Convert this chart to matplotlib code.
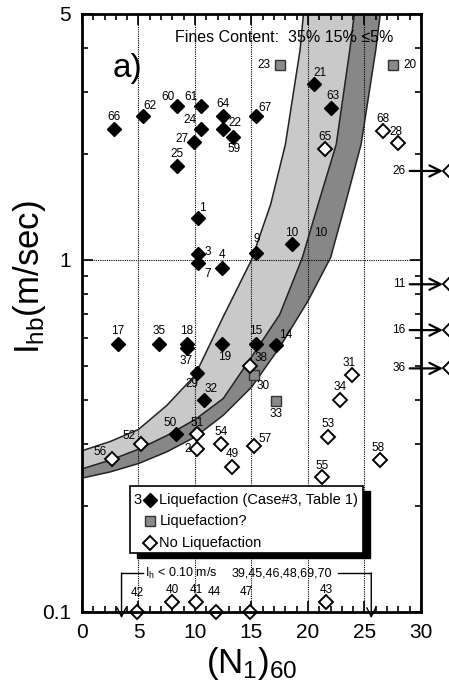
import matplotlib
matplotlib.use("Agg")
import matplotlib.pyplot as plt
from matplotlib.patches import Rectangle
from matplotlib.ticker import FixedLocator, NullFormatter

plt.rcParams['font.family'] = ['Liberation Sans', 'DejaVu Sans']
plt.rcParams['mathtext.fontset'] = 'custom'
plt.rcParams['mathtext.rm'] = 'Liberation Sans'
plt.rcParams['mathtext.it'] = 'Liberation Sans:italic'

# --- boundary curves (fines content 35%, 15%, <=5%)
fc35_x = [0, 2.5, 5, 7.5, 10, 12.5, 15, 16.7, 18.0, 19.3, 19.6]
fc35_y = [0.287, 0.305, 0.33, 0.386, 0.47, 0.69, 1.0, 1.44, 2.13, 3.95, 5.0]
fc15_x = [0, 2.5, 5, 7.5, 10, 12.5, 15, 17.5, 19.5, 20.9, 22.5, 23.7, 24.1]
fc15_y = [0.255, 0.27, 0.29, 0.317, 0.352, 0.404, 0.53, 0.70, 1.015, 1.44, 2.13, 3.95, 5.0]
fc5_x = [0, 2.5, 5, 7.5, 10, 12.5, 15, 17.5, 20, 22.0, 23.3, 24.7, 26.0, 26.4]
fc5_y = [0.24, 0.25, 0.264, 0.285, 0.314, 0.362, 0.435, 0.565, 0.765, 1.015, 1.44, 2.13, 3.95, 5.0]

# --- case histories
liq_ids = ['66', '62', '60', '61', '24', '27', '64', '22', '59', '25', '1', '67', '21', '63',
           '3', '7', '4', '9', '10', '17', '35', '18', '37', '19', '15', '14', '29', '32', '50']
liq_x = [2.8, 5.4, 8.4, 10.5, 10.5, 9.9, 12.5, 12.5, 13.4, 8.4, 10.3, 15.4, 20.5, 22.05,
         10.3, 10.3, 12.4, 15.4, 18.6, 3.2, 6.8, 9.3, 9.3, 12.4, 15.4, 17.2, 10.2, 10.8, 8.3]
liq_y = [2.35, 2.57, 2.73, 2.73, 2.35, 2.17, 2.57, 2.35, 2.24, 1.85, 1.32, 2.56, 3.17, 2.71,
         1.04, 0.98, 0.95, 1.05, 1.11, 0.577, 0.577, 0.577, 0.562, 0.577, 0.577, 0.574, 0.476, 0.40, 0.32]

maybe_ids = ['23', '20', '30', '33']
maybe_x = [17.5, 27.5, 15.2, 17.2]
maybe_y = [3.57, 3.57, 0.47, 0.397]

noliq_ids = ['65', '68', '28', '38', '51', '2', '54', '49', '52', '56', '57', '31', '34', '53',
             '58', '55', '42', '40', '41', '44', '47', '43']
noliq_x = [21.5, 26.6, 28.0, 14.85, 10.2, 10.2, 12.3, 13.3, 5.2, 2.65, 15.2, 23.9, 22.8, 21.8,
           26.4, 21.25, 4.9, 8.0, 10.1, 11.9, 14.9, 21.6]
noliq_y = [2.07, 2.32, 2.15, 0.50, 0.32, 0.29, 0.30, 0.258, 0.30, 0.272, 0.297, 0.471, 0.40, 0.315,
           0.27, 0.242, 0.1, 0.107, 0.107, 0.1, 0.1, 0.107]

# cases with Ihb above the plotted range of (N1)60 (shown with arrows)
off_ids = ['26', '11', '16', '36']
off_y = [1.79, 0.853, 0.632, 0.492]

# label offsets in pixels (dx, dy)
label_pos = {
    '66': (0, 12), '62': (7, 10), '60': (-9, 9), '61': (-10, 9), '24': (-11, 9), '27': (-12, 3),
    '64': (0, 12), '22': (12, 6), '59': (1, -12), '25': (0, 12), '1': (4, 10), '67': (9, 8),
    '21': (6, 11), '63': (2, 12), '3': (9, 2), '7': (9, -11), '4': (0, 13), '9': (1, 14),
    '10': (0, 11), '17': (0, 13), '35': (0, 13), '18': (0, 13), '37': (-1, -13), '19': (3, -13),
    '15': (0, 13), '14': (9, 10), '29': (-5, -11), '32': (7, 11), '50': (-6, 11),
    '23': (-16, 0), '20': (17, 0), '30': (9, -11), '33': (0, -13),
    '65': (0, 12), '68': (0, 12), '28': (-2, 11), '38': (11, 8), '51': (0, 11), '2': (-10, 0),
    '54': (0, 12), '49': (0, 13), '52': (-12, 8), '56': (-12, 7), '57': (11, 7), '31': (-3, 12),
    '34': (0, 13), '53': (0, 13), '58': (-2, 12), '55': (0, 11), '42': (0, 19), '40': (0, 12),
    '41': (0, 12), '44': (-2, 20), '47': (-4, 20), '43': (0, 12),
}

fig = plt.figure(figsize=(4.49, 6.89), dpi=100)
ax = fig.add_axes([0.1826, 0.1118, 0.755, 0.868])
ax.set_yscale('log')
ax.set_xlim(0, 30)
ax.set_ylim(0.1, 5)

# bands
ax.fill(fc35_x + fc15_x[::-1], fc35_y + fc15_y[::-1], color='#c9c9c9', lw=0, zorder=1)
ax.fill(fc15_x + fc5_x[::-1], fc15_y + fc5_y[::-1], color='#878787', lw=0, zorder=1)
for cx, cy in [(fc35_x, fc35_y), (fc15_x, fc15_y), (fc5_x, fc5_y)]:
    ax.plot(cx, cy, color='#222222', lw=1.1, zorder=2)

# dotted grid
for gx in [5, 10, 15, 20, 25]:
    ax.axvline(gx, color='black', lw=0.8, ls=(0, (1, 1)), zorder=1.5)
ax.axhline(1, color='black', lw=0.8, ls=(0, (1, 1)), zorder=1.5)

# markers
ax.plot(liq_x, liq_y, 'D', ms=7.5, mfc='black', mec='black', ls='none', zorder=4, clip_on=False)
ax.plot(maybe_x, maybe_y, 's', ms=7, mfc='#8a8a8a', mec='#333333', mew=1, ls='none', zorder=4)
ax.plot(noliq_x, noliq_y, 'D', ms=7, mfc='white', mec='black', mew=1.4, ls='none', zorder=4,
        clip_on=False)

for ids, xs, ys in [(liq_ids, liq_x, liq_y), (maybe_ids, maybe_x, maybe_y), (noliq_ids, noliq_x, noliq_y)]:
    for i, x, y in zip(ids, xs, ys):
        ax.annotate(i, (x, y), xytext=label_pos[i], textcoords='offset pixels',
                    ha='center', va='center', fontsize=8.5, zorder=5, annotation_clip=False)

ax.annotate('10', (21.1, 1.19), ha='center', va='center', fontsize=8.5, zorder=5)

# arrows for cases off the right side
for i, y in zip(off_ids, off_y):
    ax.annotate('', xy=(31.95, y), xytext=(29.0, y),
                arrowprops=dict(arrowstyle='->', lw=1.6, mutation_scale=20, color='black',
                                shrinkA=0, shrinkB=0),
                annotation_clip=False, zorder=5)
    ax.plot([32.55], [y], 'D', ms=7, mfc='white', mec='black', mew=1.4, clip_on=False, zorder=5)
    ax.text(28.6, y, i, ha='right', va='center', fontsize=8.5)

# Ih < 0.10 m/s annotations along the bottom
ax.plot([5.4, 3.5], [0.129, 0.129], color='black', lw=1, zorder=3)
ax.annotate('', xy=(3.5, 0.096), xytext=(3.5, 0.129),
            arrowprops=dict(arrowstyle='->', lw=1, mutation_scale=16, color='black',
                            shrinkA=0, shrinkB=0), annotation_clip=False)
ax.text(5.6, 0.129, r'I$_{\rm h}$ < 0.10 m/s', ha='left', va='center', fontsize=9)
ax.text(13.2, 0.129, '39,45,46,48,69,70', ha='left', va='center', fontsize=9)
ax.plot([22.7, 25.6], [0.129, 0.129], color='black', lw=1, zorder=3)
ax.annotate('', xy=(25.6, 0.096), xytext=(25.6, 0.129),
            arrowprops=dict(arrowstyle='->', lw=1, mutation_scale=16, color='black',
                            shrinkA=0, shrinkB=0), annotation_clip=False)

# legend box with shadow
bx0, by0, bw, bh = 0.1416, 0.0987, 0.6874, 0.112
ax.add_patch(Rectangle((bx0 + 0.022, by0 - 0.009), bw, bh, transform=ax.transAxes,
                       facecolor='black', edgecolor='black', zorder=6))
ax.add_patch(Rectangle((bx0, by0), bw, bh, transform=ax.transAxes,
                       facecolor='white', edgecolor='black', lw=1.2, zorder=7))
ax.plot([0.2006], [0.187], 'D', ms=7.5, mfc='black', mec='black', transform=ax.transAxes, zorder=8)
ax.plot([0.2006], [0.152], 's', ms=7, mfc='#8a8a8a', mec='#333333', transform=ax.transAxes, zorder=8)
ax.plot([0.2006], [0.115], 'D', ms=7, mfc='white', mec='black', mew=1.4, transform=ax.transAxes, zorder=8)
ax.text(0.165, 0.187, '3', transform=ax.transAxes, ha='center', va='center', fontsize=10.5, zorder=8)
ax.text(0.228, 0.187, 'Liquefaction (Case#3, Table 1)', transform=ax.transAxes,
        ha='left', va='center', fontsize=10.5, zorder=8)
ax.text(0.228, 0.152, 'Liquefaction?', transform=ax.transAxes,
        ha='left', va='center', fontsize=10.5, zorder=8)
ax.text(0.228, 0.115, 'No Liquefaction', transform=ax.transAxes,
        ha='left', va='center', fontsize=10.5, zorder=8)

# titles inside plot
ax.text(0.274, 0.96, 'Fines Content:  35% 15% \u22645%', transform=ax.transAxes,
        ha='left', va='center', fontsize=11.5, zorder=5)
ax.text(0.133, 0.908, 'a)', transform=ax.transAxes, ha='center', va='center', fontsize=24)

# axes styling
ax.set_xticks([0, 5, 10, 15, 20, 25, 30])
ax.set_xticks(range(0, 31), minor=True)
ax.yaxis.set_major_locator(FixedLocator([0.1, 1, 5]))
ax.set_yticklabels(['0.1', '1', '5'])
ax.yaxis.set_minor_locator(FixedLocator([0.2, 0.3, 0.4, 0.5, 0.6, 0.7, 0.8, 0.9, 2, 3, 4]))
ax.yaxis.set_minor_formatter(NullFormatter())
ax.tick_params(which='both', direction='in', top=True, right=True, labelsize=15, width=1.2)
ax.tick_params(which='major', length=8, pad=8)
ax.tick_params(which='minor', length=4)
for s in ax.spines.values():
    s.set_linewidth(2)
    s.set_zorder(9)

ax.set_xlabel(r'(N$_{\rm 1}$)$_{\rm 60}$', fontsize=25, labelpad=2)
ax.set_ylabel(r'I$_{\rm hb}$(m/sec)', fontsize=25)
ax.yaxis.set_label_coords(-0.1, 0.56)

fig.savefig('out.png', dpi=100)
